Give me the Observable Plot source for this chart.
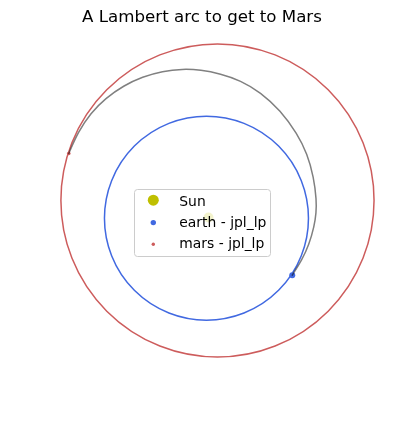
<!DOCTYPE html>
<html><head><meta charset="utf-8">
<script src="https://cdn.jsdelivr.net/npm/d3@7"></script>
<script src="https://cdn.jsdelivr.net/npm/@observablehq/plot@0.6"></script>
<style>
body{margin:0;background:#fff;font-family:"DejaVu Sans",sans-serif;}
#wrap{position:relative;width:404px;height:425px;overflow:hidden;}
#title{height:30px;box-sizing:border-box;padding-top:6.5px;text-align:center;font-size:16.67px;color:#000;line-height:normal;white-space:nowrap;}
#chart svg{display:block;}
#legend{position:absolute;left:134px;top:189px;}
</style></head><body>
<div id="wrap"><div id="title">A Lambert arc to get to Mars</div><div id="chart"></div><svg id="legend" width="138" height="69"></svg></div>
<script>
// Data (AU, heliocentric)
const legendLabels = ["Sun", "earth - jpl_lp", "mars - jpl_lp"];
const sunPosition = [0, 0];
const earthOrbitCenter = [-0.020, -0.007];
const earthOrbitRadius = [1.0];
const marsOrbitCenter = [0.088, 0.167];
const marsOrbitRadius = [1.535];
const earthPosition = [0.821, -0.566];
const marsPosition = [-1.370, 0.627];
const transferX = [0.821, 0.917, 0.985, 1.037, 1.056, 1.059, 1.032, 0.968, 0.870, 0.706, 0.510, 0.314, 0.118, -0.078, -0.255, -0.451, -0.647, -0.833, -1.010, -1.155, -1.279, -1.370];
const transferY = [-0.566, -0.414, -0.268, -0.087, 0.048, 0.167, 0.395, 0.625, 0.821, 1.049, 1.228, 1.343, 1.409, 1.448, 1.457, 1.435, 1.380, 1.293, 1.169, 1.024, 0.838, 0.627];

const K = 102; // px per AU
const transfer = transferX.map((x, i) => ({x, y: transferY[i]}));
const earthOrbit = [{x: earthOrbitCenter[0], y: earthOrbitCenter[1], r: earthOrbitRadius[0]}];
const marsOrbit = [{x: marsOrbitCenter[0], y: marsOrbitCenter[1], r: marsOrbitRadius[0]}];

const plot = Plot.plot({
  width: 404, height: 395, margin: 0,
  x: {domain: [-208 / K, 196 / K], axis: null},
  y: {domain: [-208 / K, 187 / K], axis: null},
  r: {type: "linear", domain: [0, 1], range: [0, K]},
  marks: [
    Plot.dot([sunPosition], {x: d => d[0], y: d => d[1], r: 5, fill: "#bfbf00", stroke: "none"}),
    Plot.dot(earthOrbit, {x: "x", y: "y", r: "r", fill: "none", stroke: "royalblue", strokeWidth: 1.5}),
    Plot.dot([earthPosition], {x: d => d[0], y: d => d[1], r: 3, fill: "royalblue", stroke: "none"}),
    Plot.dot(marsOrbit, {x: "x", y: "y", r: "r", fill: "none", stroke: "indianred", strokeWidth: 1.5}),
    Plot.dot([marsPosition], {x: d => d[0], y: d => d[1], r: 1.8, fill: "indianred", stroke: "none"}),
    Plot.line(transfer, {x: "x", y: "y", stroke: "gray", strokeWidth: 1.5, curve: "basis", mixBlendMode: "multiply"})
  ]
});
document.getElementById("chart").appendChild(plot);

// Legend
const lg = d3.select("#legend");
lg.append("rect").attr("x", 0.5).attr("y", 0.5).attr("width", 136).attr("height", 67).attr("rx", 3)
  .attr("fill", "white").attr("fill-opacity", 0.8).attr("stroke", "#cccccc").attr("stroke-width", 1);
const markerColors = ["#bfbf00", "royalblue", "indianred"];
const markerR = [5.5, 2.7, 1.7];
const markerY = [11.2, 33.6, 55.3];
const textY = [16.6, 38, 59.3];
legendLabels.forEach((lab, i) => {
  lg.append("circle").attr("cx", 19.3).attr("cy", markerY[i]).attr("r", markerR[i]).attr("fill", markerColors[i]);
  lg.append("text").attr("x", 45.3).attr("y", textY[i]).attr("font-size", "13.9px")
    .attr("font-family", "DejaVu Sans").attr("fill", "#000").text(lab);
});
</script>
</body></html>
